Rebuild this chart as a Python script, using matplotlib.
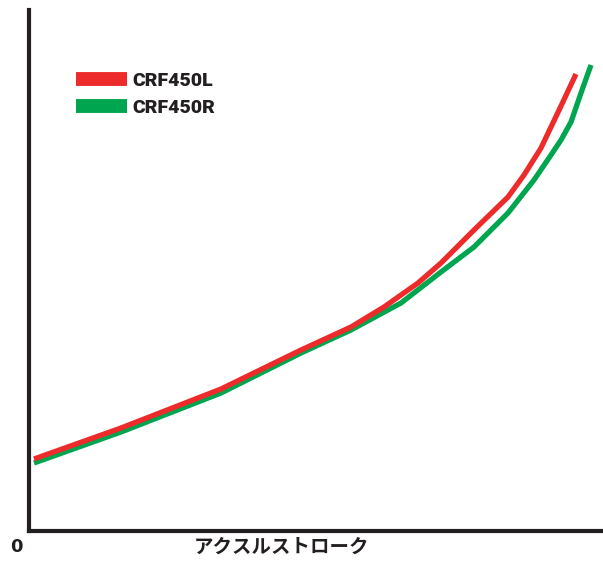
import matplotlib
matplotlib.use("Agg")
import matplotlib.pyplot as plt

plt.rcParams['font.family'] = ['Noto Sans CJK JP', 'DejaVu Sans']

# ストロークと荷重 (画像から読み取り, 任意単位)
stroke_L = [5, 92, 192, 272, 322, 355, 389, 412, 445, 479, 495, 512, 532, 547]
load_L = [72, 103, 142, 181, 204, 224, 248, 268, 301, 334, 356, 383, 425, 457]
stroke_R = [5, 92, 192, 272, 322, 372, 412, 445, 479, 505, 522, 532, 542, 552, 562]
load_R = [68, 99, 138, 178, 201, 228, 259, 284, 318, 351, 376, 391, 409, 438, 466]
labels = ['CRF450L', 'CRF450R']
colors = ['#ee2b2b', '#00a54f']

fig = plt.figure(figsize=(6.03, 5.65), dpi=100)
ax = fig.add_axes([29 / 603, 34 / 565, 1 - 29 / 603, 521 / 565])

ax.plot(stroke_R, load_R, color=colors[1], lw=3.8, label=labels[1],
        solid_capstyle='butt', solid_joinstyle='round')
ax.plot(stroke_L, load_L, color=colors[0], lw=3.8, label=labels[0],
        solid_capstyle='butt', solid_joinstyle='round')

ax.set_xlim(0, 574)
ax.set_ylim(0, 521)
ax.set_xticks([])
ax.set_yticks([])
for s in ['top', 'right']:
    ax.spines[s].set_visible(False)
for s in ['left', 'bottom']:
    ax.spines[s].set_linewidth(3)
    ax.spines[s].set_color('#231f20')

h, l = ax.get_legend_handles_labels()
leg = ax.legend(h[::-1], l[::-1], loc='upper left', frameon=False,
                bbox_to_anchor=(76 / 603, 1 - 72 / 565), bbox_transform=fig.transFigure,
                prop={'family': 'Roboto', 'weight': 'black', 'size': 14},
                handlelength=2.6, handletextpad=0.3, labelspacing=0.44,
                borderaxespad=0, borderpad=0)
for line in leg.get_lines():
    line.set_linewidth(10)
    line.set_solid_capstyle('butt')
for t in leg.get_texts():
    t.set_color('#231f20')

fig.text(16 / 603, 1 - 547 / 565, '0', ha='center', va='center',
         fontsize=13, fontweight='bold', family='DejaVu Sans', color='#231f20')
fig.text(281 / 603, 1 - 547 / 565, 'アクスルストローク', ha='center', va='center',
         fontsize=14, fontweight='bold', color='#231f20')

fig.savefig('out.png', dpi=100)
